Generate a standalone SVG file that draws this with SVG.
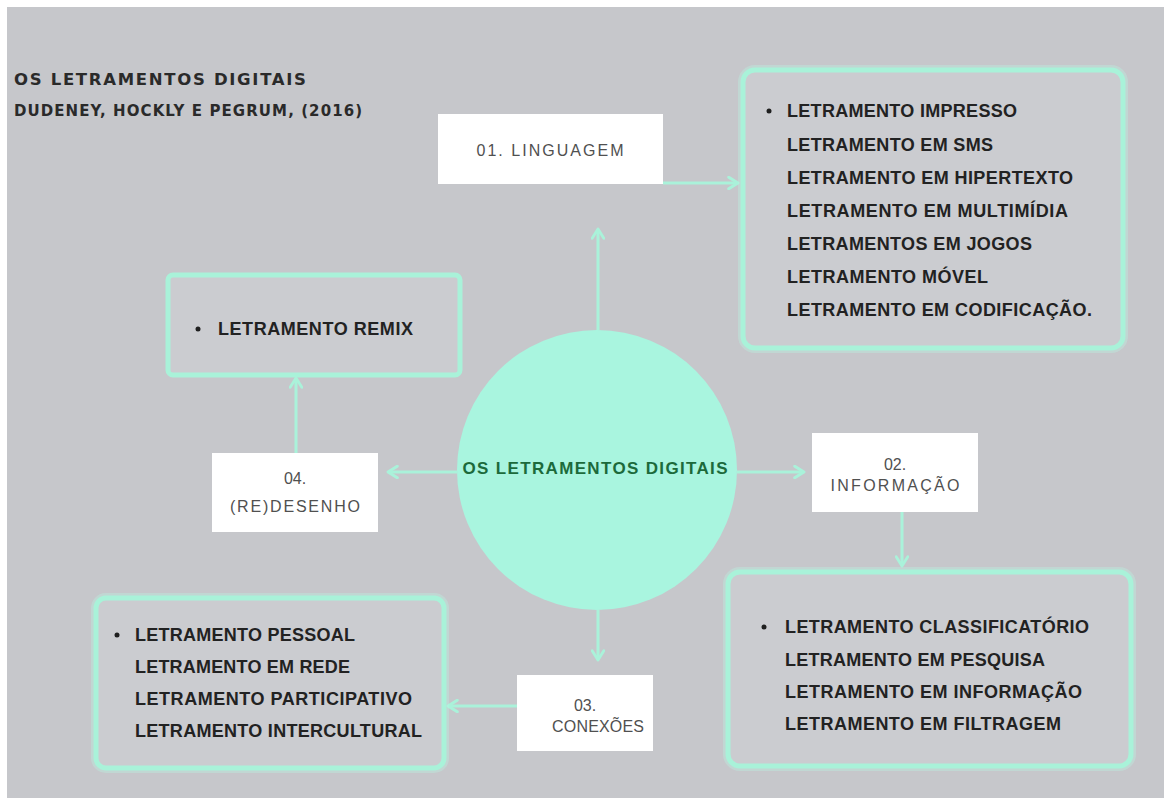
<svg xmlns="http://www.w3.org/2000/svg" width="1164" height="798" viewBox="0 0 1164 798">
<style>
.title{font-family:"DejaVu Sans",sans-serif;font-weight:bold;fill:#2a2a2a}
.lab{font-family:"Liberation Sans",Arial,sans-serif;font-size:16px;fill:#505050;text-anchor:middle}
.item{font-family:"Liberation Sans",Arial,sans-serif;font-weight:bold;font-size:18px;fill:#222222}
.panel{fill:#cbccd0;stroke:#a9f2d9;stroke-width:5}
.glow{fill:none;stroke:#b8f5e2;stroke-width:10;opacity:0.35}
.wbox{fill:#ffffff}
.conn{stroke:#aaf2da;stroke-width:3;fill:none}
.center{font-family:"Liberation Sans",Arial,sans-serif;font-weight:bold;font-size:17px;fill:#1c6a3b;text-anchor:middle}
</style>
<defs>
<marker id="arr" viewBox="0 0 12 12" refX="10" refY="6" markerWidth="14" markerHeight="14" markerUnits="userSpaceOnUse" orient="auto">
<path d="M2,1 L10,6 L2,11" fill="none" stroke="#aaf2da" stroke-width="2.5" stroke-linecap="round" stroke-linejoin="round"/>
</marker>
</defs>
<rect x="0" y="0" width="1164" height="798" fill="#ffffff"/>
<rect x="7" y="7" width="1157" height="791" fill="#c6c7cb"/>

<g id="heading">
<text class="title" x="14" y="85" font-size="16.5" textLength="292" lengthAdjust="spacing">OS LETRAMENTOS DIGITAIS</text>
<text class="title" x="14" y="116" font-size="15" textLength="348" lengthAdjust="spacing">DUDENEY, HOCKLY E PEGRUM, (2016)</text>
</g>

<g id="connectors">
<line class="conn" x1="663" y1="183" x2="738" y2="183" marker-end="url(#arr)"/>
<line class="conn" x1="598" y1="330" x2="598" y2="229" marker-end="url(#arr)"/>
<line class="conn" x1="737" y1="472" x2="804" y2="472" marker-end="url(#arr)"/>
<line class="conn" x1="902" y1="512" x2="902" y2="566" marker-end="url(#arr)"/>
<line class="conn" x1="598" y1="610" x2="598" y2="660" marker-end="url(#arr)"/>
<line class="conn" x1="517" y1="706" x2="448" y2="706" marker-end="url(#arr)"/>
<line class="conn" x1="457" y1="472" x2="388" y2="472" marker-end="url(#arr)"/>
<line class="conn" x1="296" y1="453" x2="296" y2="378" marker-end="url(#arr)"/>
</g>

<g id="center">
<circle cx="597" cy="470" r="140" fill="#a9f5df"/>
<text class="center" x="595" y="474" textLength="265" lengthAdjust="spacing">OS LETRAMENTOS DIGITAIS</text>
</g>

<g id="n01">
<rect class="wbox" x="438" y="114" width="225" height="70"/>
<text class="lab" x="550" y="156" font-size="17" textLength="147" lengthAdjust="spacing">01. LINGUAGEM</text>
</g>

<g id="list01">
<rect class="glow" x="743" y="70" width="380" height="278" rx="12"/>
<rect class="panel" x="743" y="70" width="380" height="278" rx="12"/>
<circle cx="769" cy="111" r="2.5" fill="#1f1f1f"/>
<text class="item" x="787" y="117" textLength="230" lengthAdjust="spacing">LETRAMENTO IMPRESSO</text>
<text class="item" x="787" y="151" textLength="206" lengthAdjust="spacing">LETRAMENTO EM SMS</text>
<text class="item" x="787" y="184" textLength="286" lengthAdjust="spacing">LETRAMENTO EM HIPERTEXTO</text>
<text class="item" x="787" y="217" textLength="281" lengthAdjust="spacing">LETRAMENTO EM MULTIMÍDIA</text>
<text class="item" x="787" y="250" textLength="245" lengthAdjust="spacing">LETRAMENTOS EM JOGOS</text>
<text class="item" x="787" y="283" textLength="201" lengthAdjust="spacing">LETRAMENTO MÓVEL</text>
<text class="item" x="787" y="316" textLength="305" lengthAdjust="spacing">LETRAMENTO EM CODIFICAÇÃO.</text>
</g>

<g id="n02">
<rect class="wbox" x="812" y="433" width="166" height="79"/>
<text class="lab" x="895" y="470">02.</text>
<text class="lab" x="895" y="491" textLength="129" lengthAdjust="spacing">INFORMAÇÃO</text>
</g>

<g id="list02">
<rect class="glow" x="728" y="572" width="403" height="194" rx="12"/>
<rect class="panel" x="728" y="572" width="403" height="194" rx="12"/>
<circle cx="764" cy="627" r="2.5" fill="#1f1f1f"/>
<text class="item" x="785" y="633" textLength="304" lengthAdjust="spacing">LETRAMENTO CLASSIFICATÓRIO</text>
<text class="item" x="785" y="666" textLength="260" lengthAdjust="spacing">LETRAMENTO EM PESQUISA</text>
<text class="item" x="785" y="698" textLength="297" lengthAdjust="spacing">LETRAMENTO EM INFORMAÇÃO</text>
<text class="item" x="785" y="730" textLength="276" lengthAdjust="spacing">LETRAMENTO EM FILTRAGEM</text>
</g>

<g id="n03">
<rect class="wbox" x="517" y="675" width="136" height="76"/>
<text class="lab" x="585" y="711">03.</text>
<text class="lab" x="598" y="732" textLength="92" lengthAdjust="spacing">CONEXÕES</text>
</g>

<g id="list03">
<rect class="glow" x="96" y="598" width="348" height="170" rx="10"/>
<rect class="panel" x="96" y="598" width="348" height="170" rx="10"/>
<circle cx="117" cy="635" r="2.5" fill="#1f1f1f"/>
<text class="item" x="135" y="641" textLength="220" lengthAdjust="spacing">LETRAMENTO PESSOAL</text>
<text class="item" x="135" y="673" textLength="215" lengthAdjust="spacing">LETRAMENTO EM REDE</text>
<text class="item" x="135" y="705" textLength="277" lengthAdjust="spacing">LETRAMENTO PARTICIPATIVO</text>
<text class="item" x="135" y="737" textLength="287" lengthAdjust="spacing">LETRAMENTO INTERCULTURAL</text>
</g>

<g id="n04">
<rect class="wbox" x="212" y="453" width="166" height="79"/>
<text class="lab" x="295" y="484">04.</text>
<text class="lab" x="295" y="512" textLength="130" lengthAdjust="spacing">(RE)DESENHO</text>
</g>

<g id="list04">
<rect class="panel" x="168" y="275" width="292" height="100" rx="5" stroke-width="3.5"/>
<circle cx="198" cy="329" r="2.5" fill="#1f1f1f"/>
<text class="item" x="218" y="335" textLength="195" lengthAdjust="spacing">LETRAMENTO REMIX</text>
</g>
</svg>
